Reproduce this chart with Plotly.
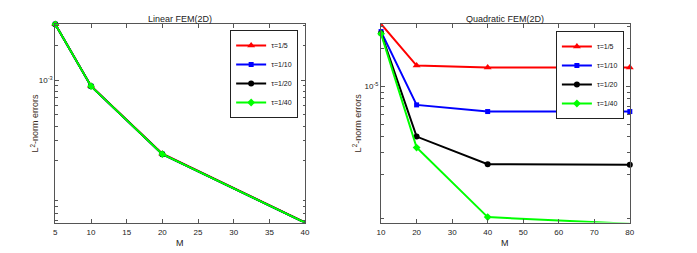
import plotly.graph_objects as go

W, H = 697, 253

# ---------------- data ----------------
M_linear = [5, 10, 20, 40]
lin_tau5 = [3.05e-3, 8.90e-4, 2.30e-4, 5.82e-5]
lin_tau10 = [3.05e-3, 8.86e-4, 2.28e-4, 5.80e-5]
lin_tau20 = [3.05e-3, 8.86e-4, 2.28e-4, 5.80e-5]
lin_tau40 = [3.05e-3, 8.86e-4, 2.28e-4, 5.80e-5]

M_quad = [10, 20, 40, 80]
quad_tau5 = [3.15e-5, 1.47e-5, 1.42e-5, 1.42e-5]
quad_tau10 = [2.74e-5, 7.16e-6, 6.34e-6, 6.34e-6]
quad_tau20 = [2.66e-5, 4.01e-6, 2.42e-6, 2.39e-6]
quad_tau40 = [2.63e-5, 3.28e-6, 9.18e-7, 8.12e-7]

legend_names = ["τ=1/5", "τ=1/10", "τ=1/20", "τ=1/40"]
colors = ["#ff0000", "#0000ff", "#000000", "#00ff00"]
symbols = ["triangle-up", "square", "circle", "diamond"]
msizes = [7, 5, 6, 6]

titles = ["Linear FEM(2D)", "Quadratic FEM(2D)"]
ytitle = "L<sup>2</sup>-norm errors"
xtitle = "M"

lin_xticks = [5, 10, 15, 20, 25, 30, 35, 40]
quad_xticks = [10, 20, 30, 40, 50, 60, 70, 80]

FONT = "Liberation Sans, Arial, sans-serif"

fig = go.Figure()

lin_series = [lin_tau5, lin_tau10, lin_tau20, lin_tau40]
quad_series = [quad_tau5, quad_tau10, quad_tau20, quad_tau40]

for i, ys in enumerate(lin_series):
    fig.add_trace(go.Scatter(
        x=M_linear, y=ys, mode="lines+markers", name=legend_names[i],
        line=dict(color=colors[i], width=2),
        marker=dict(symbol=symbols[i], size=msizes[i], color=colors[i]),
        xaxis="x", yaxis="y", legend="legend", cliponaxis=False))

for i, ys in enumerate(quad_series):
    fig.add_trace(go.Scatter(
        x=M_quad, y=ys, mode="lines+markers", name=legend_names[i],
        line=dict(color=colors[i], width=2),
        marker=dict(symbol=symbols[i], size=msizes[i], color=colors[i]),
        xaxis="x2", yaxis="y2", legend="legend2", cliponaxis=False))

def px_x(p):
    return p / W

def px_y(p):
    return 1 - p / H

ydom = [px_y(222.5), px_y(24)]
x1dom = [px_x(52), px_x(305)]
x2dom = [px_x(382), px_x(634)]

axis_common = dict(
    showline=True, linecolor="#555555", linewidth=1, mirror="ticks",
    ticks="inside", ticklen=4, tickcolor="#555555", showgrid=False,
    zeroline=False, tickfont=dict(family=FONT, size=8, color="#222222"),
)

def minor_vals(lo, hi):
    vals = []
    for d in range(lo, hi + 1):
        for k in range(2, 10):
            vals.append(k * 10.0 ** d)
    return vals

fig.update_layout(
    width=W, height=H, margin=dict(l=0, r=0, t=0, b=0),
    paper_bgcolor="white", plot_bgcolor="white",
    font=dict(family=FONT, size=8, color="#222222"),
    xaxis=dict(domain=x1dom, anchor="y", range=[5, 40], tickvals=lin_xticks,
               ticklabelstandoff=2, **axis_common),
    yaxis=dict(domain=ydom, anchor="x", type="log", range=[-4.235, -2.513],
               tickvals=[1e-3], ticktext=["10<sup>-3</sup>"],
               minor=dict(tickvals=minor_vals(-5, -3), ticks="inside", ticklen=2.5,
                          tickcolor="#555555"),
               **axis_common),
    xaxis2=dict(domain=x2dom, anchor="y2", range=[10, 80], tickvals=quad_xticks,
                ticklabelstandoff=2, **axis_common),
    yaxis2=dict(domain=ydom, anchor="x2", type="log", range=[-6.080, -4.502],
                tickvals=[1e-5], ticktext=["10<sup>-5</sup>"],
                minor=dict(tickvals=minor_vals(-7, -5), ticks="inside", ticklen=2.5,
                           tickcolor="#555555"),
                **axis_common),
    legend=dict(x=px_x(298), y=px_y(30), xanchor="right", yanchor="top",
                bgcolor="white", bordercolor="#222222", borderwidth=1,
                font=dict(family=FONT, size=7, color="#111111"),
                itemwidth=30, tracegroupgap=0),
    legend2=dict(x=px_x(628), y=px_y(31), xanchor="right", yanchor="top",
                 bgcolor="white", bordercolor="#222222", borderwidth=1,
                 font=dict(family=FONT, size=7, color="#111111"),
                 itemwidth=30, tracegroupgap=0),
    showlegend=True,
)

annotations = []
for dom, t in zip([x1dom, x2dom], titles):
    cx = (dom[0] + dom[1]) / 2
    annotations.append(dict(text=t, x=cx, y=px_y(19), xref="paper", yref="paper",
                            showarrow=False, font=dict(family=FONT, size=9, color="#222222"),
                            xanchor="center", yanchor="middle"))
    annotations.append(dict(text=xtitle, x=cx, y=px_y(243), xref="paper", yref="paper",
                            showarrow=False, font=dict(family=FONT, size=9, color="#222222"),
                            xanchor="center", yanchor="middle"))
for xp in [31, 358]:
    annotations.append(dict(text=ytitle, x=px_x(xp), y=px_y(123), xref="paper", yref="paper",
                            showarrow=False, textangle=-90,
                            font=dict(family=FONT, size=9, color="#3a2a20"),
                            xanchor="center", yanchor="middle"))
fig.update_layout(annotations=annotations)

fig.write_html("out.html", config={"displayModeBar": False},
               post_script="document.body.style.margin='0px';")
